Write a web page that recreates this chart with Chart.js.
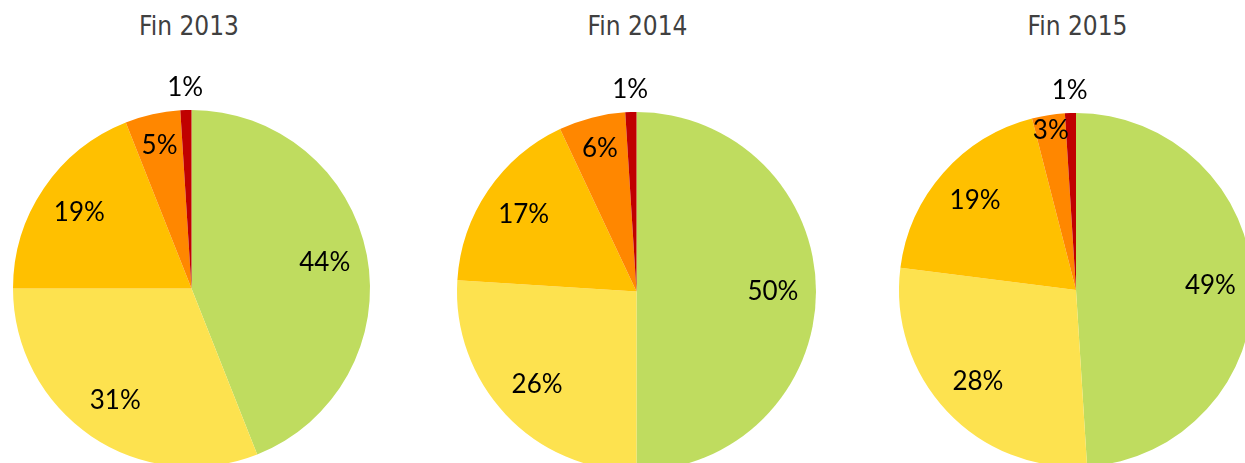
<!DOCTYPE html>
<html>
<head>
<meta charset="utf-8">
<script src="https://cdn.jsdelivr.net/npm/chart.js@4/dist/chart.umd.min.js"></script>
<style>
  html, body { margin: 0; padding: 0; background: #fff; }
  body { width: 1245px; height: 463px; overflow: hidden; position: relative; }
  .title { position: absolute; width: 300px; text-align: center; font-family: "DejaVu Sans Condensed", "DejaVu Sans", sans-serif; font-size: 26px; line-height: 26px; color: #404040; }
  .pie { position: absolute; }
</style>
</head>
<body>
<script>
// ---- data ----
const titles = ['Fin 2013', 'Fin 2014', 'Fin 2015'];
const categories = ['Cat. 1', 'Cat. 2', 'Cat. 3', 'Cat. 4', 'Cat. 5'];
const values2013 = [44, 31, 19, 5, 1];
const values2014 = [50, 26, 17, 6, 1];
const values2015 = [49, 28, 19, 3, 1];
const seriesValues = [values2013, values2014, values2015];
const sliceColors = ['#BFDC5F', '#FDE24F', '#FFC000', '#FF8700', '#C00000'];

// ---- layout (positions / sizes) ----
const pieLayout = [
  { cx: 191.5, cy: 288.5, r: 178.5, titleX: 189 },
  { cx: 636.5, cy: 291, r: 179.5, titleX: 637.5 },
  { cx: 1076, cy: 290, r: 177, titleX: 1077.5 }
];
const PAD = 50;

const labelPlugin = {
  id: 'sliceLabels',
  afterDatasetsDraw(chart) {
    const ctx = chart.ctx;
    const meta = chart.getDatasetMeta(0);
    const data = chart.data.datasets[0].data;
    ctx.save();
    ctx.font = '26px Lato, "Open Sans", sans-serif';
    ctx.fillStyle = '#000';
    ctx.textAlign = 'center';
    ctx.textBaseline = 'middle';
    meta.data.forEach((arc, i) => {
      const p = arc.getProps(['x', 'y', 'startAngle', 'endAngle', 'outerRadius'], true);
      const mid = (p.startAngle + p.endAngle) / 2;
      const v = data[i];
      let dist;
      if (v <= 1) dist = p.outerRadius + 22;
      else if (v <= 3) dist = p.outerRadius * 0.91;
      else if (v <= 6) dist = p.outerRadius * 0.82;
      else dist = p.outerRadius * 0.76;
      const x = p.x + Math.cos(mid) * dist;
      const y = p.y + Math.sin(mid) * dist;
      ctx.fillText(v + '%', x, y);
    });
    ctx.restore();
  }
};

seriesValues.forEach((vals, k) => {
  const L = pieLayout[k];
  const t = document.createElement('div');
  t.className = 'title';
  t.textContent = titles[k];
  t.style.left = (L.titleX - 150) + 'px';
  t.style.top = '13px';
  document.body.appendChild(t);

  const size = Math.round(2 * L.r + 2 * PAD);
  const wrap = document.createElement('div');
  wrap.className = 'pie';
  wrap.style.left = (L.cx - L.r - PAD) + 'px';
  wrap.style.top = (L.cy - L.r - PAD) + 'px';
  wrap.style.width = size + 'px';
  wrap.style.height = size + 'px';
  const c = document.createElement('canvas');
  c.width = size; c.height = size;
  wrap.appendChild(c);
  document.body.appendChild(wrap);

  new Chart(c, {
    type: 'pie',
    data: {
      labels: categories,
      datasets: [{ data: vals, backgroundColor: sliceColors, borderWidth: 0 }]
    },
    options: {
      responsive: false,
      animation: false,
      layout: { padding: PAD },
      plugins: { legend: { display: false }, tooltip: { enabled: false }, title: { display: false } }
    },
    plugins: [labelPlugin]
  });
});
</script>
</body>
</html>
